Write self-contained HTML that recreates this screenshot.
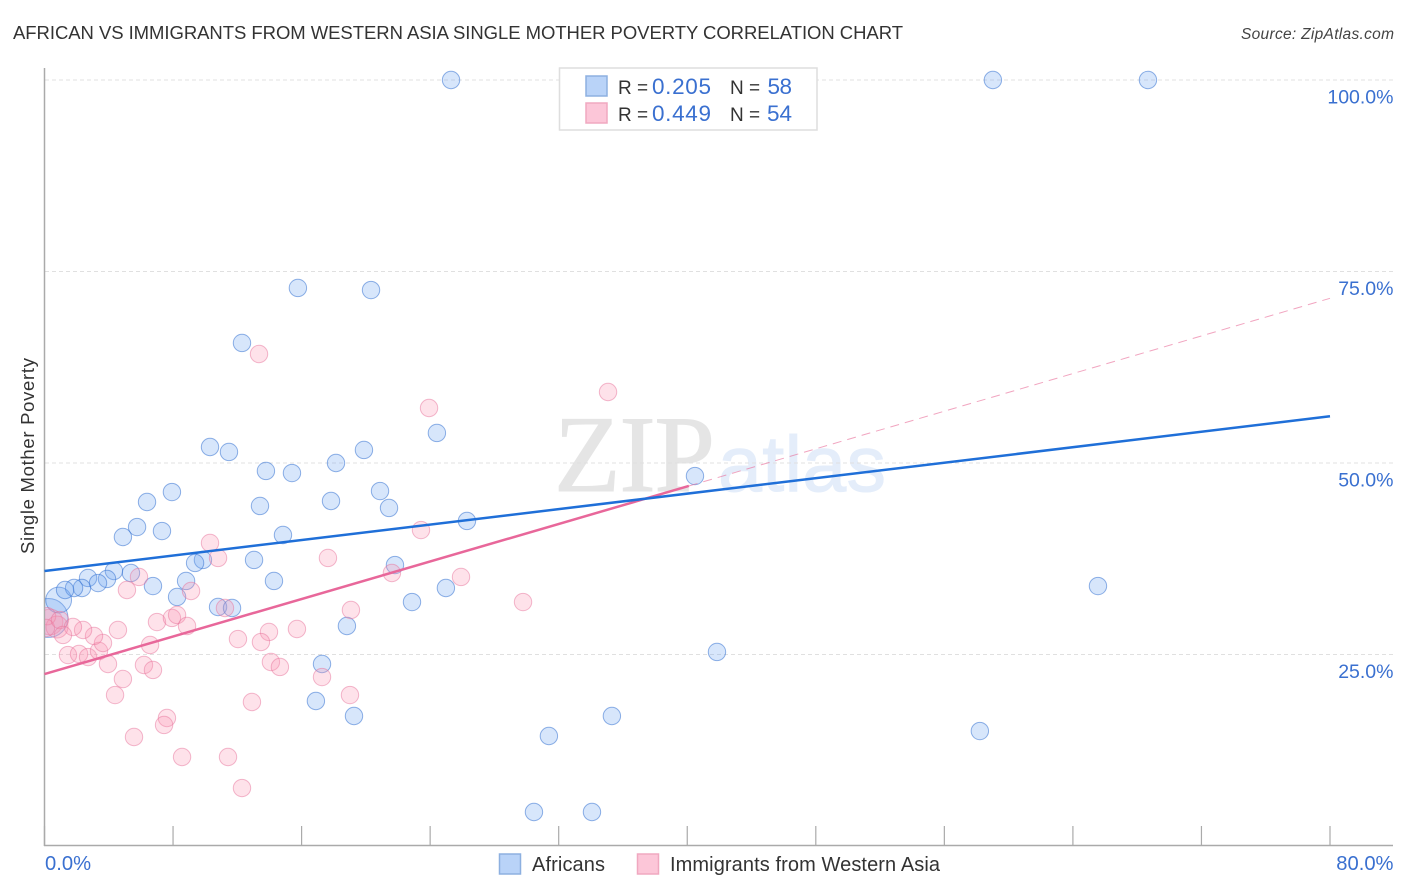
<!DOCTYPE html>
<html lang="en">
<head>
<meta charset="utf-8">
<title>African vs Immigrants from Western Asia Single Mother Poverty Correlation Chart</title>
<style>
html,body{margin:0;padding:0;background:#fff;width:1406px;height:892px;overflow:hidden}
svg{display:block;font-family:"Liberation Sans",sans-serif}
</style>
</head>
<body>
<svg id="chart" width="1406" height="892" viewBox="0 0 1406 892" xmlns="http://www.w3.org/2000/svg">
  <defs><clipPath id="plot-clip"><rect x="45" y="60" width="1350" height="786"/></clipPath></defs>
  <rect x="0" y="0" width="1406" height="892" fill="#fff"/>
  <text x="13" y="39" font-size="18.5" fill="#333" textLength="890" lengthAdjust="spacing">AFRICAN VS IMMIGRANTS FROM WESTERN ASIA SINGLE MOTHER POVERTY CORRELATION CHART</text>
  <text x="1241" y="39" font-size="15.5" font-style="italic" fill="#444" textLength="153" lengthAdjust="spacing">Source: ZipAtlas.com</text>

  <g>
    <text x="554" y="491" font-family="'Liberation Serif',serif" font-size="109" fill="#e5e5e5" stroke="#e5e5e5" stroke-width="1" textLength="161" lengthAdjust="spacing">ZIP</text>
    <text x="718" y="491" font-size="79" fill="#e4edfa" stroke="#e4edfa" stroke-width="1" textLength="168" lengthAdjust="spacing">atlas</text>
  </g>

  <g id="grid"></g>
  <g id="axes"></g>
  <g id="points" clip-path="url(#plot-clip)"></g>
  <g id="trends"></g>
  <g id="labels"></g>

  <text transform="translate(34,554) rotate(-90)" font-size="18.5" fill="#333" textLength="196" lengthAdjust="spacing">Single Mother Poverty</text>

  <g>
    <rect x="559.5" y="68" width="257.5" height="62" fill="#fff" stroke="#dedede" stroke-width="1.5"/>
    <rect x="586" y="76" width="21" height="20" fill="#b9d3f8" stroke="#8db0e0" stroke-width="1.5"/>
    <rect x="586" y="103" width="21" height="20" fill="#fcc6d8" stroke="#f0a8c0" stroke-width="1.5"/>
    <text x="618" y="94" font-size="19" fill="#333" xml:space="preserve">R =</text>
    <text x="652" y="94" font-size="22.5" fill="#3a70d0" textLength="59" lengthAdjust="spacing">0.205</text>
    <text x="730" y="94" font-size="19" fill="#333" xml:space="preserve">N =</text>
    <text x="767.5" y="94" font-size="22.5" fill="#3a70d0" textLength="24.5" lengthAdjust="spacing">58</text>
    <text x="618" y="121" font-size="19" fill="#333" xml:space="preserve">R =</text>
    <text x="652" y="121" font-size="22.5" fill="#3a70d0" textLength="59" lengthAdjust="spacing">0.449</text>
    <text x="730" y="121" font-size="19" fill="#333" xml:space="preserve">N =</text>
    <text x="767" y="121" font-size="22.5" fill="#3a70d0" textLength="25" lengthAdjust="spacing">54</text>
  </g>

  <g>
    <rect x="499.5" y="854" width="21" height="20" fill="#b9d3f8" stroke="#8db0e0" stroke-width="1.5"/>
    <text x="532" y="871" font-size="20" fill="#333" textLength="73" lengthAdjust="spacing">Africans</text>
    <rect x="637.5" y="854" width="21" height="20" fill="#fcc6d8" stroke="#f0a8c0" stroke-width="1.5"/>
    <text x="670" y="871" font-size="20" fill="#333" textLength="270" lengthAdjust="spacing">Immigrants from Western Asia</text>
  </g>
</svg>

<script>
const africansX = [0.25,0.88,25.30,59.02,68.67,15.77,20.32,12.29,10.30,11.48,13.78,15.40,18.14,19.88,24.42,7.93,6.38,13.41,17.83,20.88,21.44,26.29,40.48,5.76,4.88,7.31,14.84,9.86,9.37,13.04,21.81,14.28,8.81,5.38,4.32,3.89,2.71,3.33,2.33,1.84,1.28,6.75,8.25,10.80,11.67,22.87,24.98,65.56,18.82,17.27,41.85,16.89,19.26,31.39,35.31,58.21,30.46,34.07];
const africansY = [29.77,32.11,100,100,100,72.85,72.58,65.67,52.09,51.44,48.96,48.69,50.00,51.70,53.92,46.21,44.91,44.39,45.04,46.34,44.13,42.43,48.30,41.64,40.34,41.12,40.60,37.34,36.95,37.34,36.68,34.60,34.60,35.64,35.90,34.86,34.99,34.33,33.68,33.68,33.42,33.94,32.51,31.20,31.07,31.85,33.68,33.94,28.72,23.76,25.33,18.93,16.97,14.36,16.97,15.01,4.44,4.44];
const africansWeight = [5,2.2];

const immigrantsX = [0.34,0.78,0.16,0.09,0.96,10.30,10.80,17.64,5.88,5.13,9.12,19.07,7.00,7.93,8.25,8.87,4.57,12.04,13.97,13.47,15.71,6.57,6.19,6.75,14.09,14.65,17.27,19.01,3.95,4.88,4.39,12.91,7.62,7.44,5.57,8.56,11.42,12.29,1.46,2.15,2.71,3.39,3.64,3.08,2.40,1.77,1.15,13.35,23.93,35.07,23.43,21.62,25.92,29.78,11.23];
const immigrantsY = [29.24,28.59,30.00,28.46,29.50,39.56,37.60,37.60,35.12,33.42,33.29,30.81,29.24,29.77,30.16,28.72,28.20,27.02,27.94,26.63,28.33,26.24,23.63,22.98,24.02,23.37,22.06,19.71,23.76,21.80,19.71,18.80,16.71,15.80,14.23,11.62,11.62,7.57,24.93,25.07,24.67,25.46,26.50,27.42,28.20,28.59,27.55,64.23,57.18,59.27,41.25,35.64,35.12,31.85,31.07];
const immigrantsWeight = [2.2,1.6];

const africansTrendX = [0,80];
const africansTrendY = [35.9,56.1];
const immigrantsTrendX = [0,40.1];
const immigrantsTrendY = [22.45,47.0];
const immigrantsExtensionX = [40.1,80];
const immigrantsExtensionY = [47.0,71.5];

const xTickValues = [0,8,16,24,32,40,48,56,64,72,80];
const yTickValues = [25,50,75,100];
const yTickLabels = ['25.0%','50.0%','75.0%','100.0%'];
const xEndValues = [0,80];
const xEndLabels = ['0.0%','80.0%'];

const NS = 'http://www.w3.org/2000/svg';
const sx = v => 44.5 + v * (1330 - 44.5) / 80;
const sy = v => 846 - v * (846 - 80) / 100;
const baseRadius = 8.7;

function make(tag, attrs, parent) {
  const el = document.createElementNS(NS, tag);
  for (const k in attrs) el.setAttribute(k, attrs[k]);
  parent.appendChild(el);
  return el;
}

const grid = document.getElementById('grid');
const axes = document.getElementById('axes');
const points = document.getElementById('points');
const trends = document.getElementById('trends');
const labels = document.getElementById('labels');

yTickValues.forEach(function (v) {
  const line = make('line', {x1: 45, x2: 1393, y1: sy(v), y2: sy(v), stroke: '#e0e0e0', 'stroke-width': 1, 'stroke-dasharray': '4 3'}, grid);
  
  
});

const yAxis = make('line', {x1: 44.5, x2: 44.5, y1: 68, y2: 846, stroke: '#aaa', 'stroke-width': 1.5}, axes);


const xAxis = make('line', {x1: 44, x2: 1393, y1: 845.5, y2: 845.5, stroke: '#aaa', 'stroke-width': 1.5}, axes);



xTickValues.forEach(function (v) {
  const tick = make('line', {x1: sx(v), x2: sx(v), y1: 826, y2: 846, stroke: '#aaa', 'stroke-width': 1.2}, axes);
  
  
});

function drawSeries(xs, ys, weights, fill, stroke, name) {
  xs.forEach(function (x, i) {
    const w = weights[i] || 1;
    const c = make('circle', {cx: sx(x), cy: sy(ys[i]), r: baseRadius * Math.sqrt(w), fill: fill, stroke: stroke, 'stroke-width': 1}, points);
    
    
  });
}
drawSeries(africansX, africansY, africansWeight, 'rgba(110,165,240,0.28)', 'rgba(55,115,210,0.55)', 'african-point');
drawSeries(immigrantsX, immigrantsY, immigrantsWeight, 'rgba(250,150,180,0.28)', 'rgba(232,115,155,0.50)', 'immigrant-point');

const extension = make('line', {x1: sx(immigrantsExtensionX[0]), y1: sy(immigrantsExtensionY[0]), x2: sx(immigrantsExtensionX[1]), y2: sy(immigrantsExtensionY[1]), stroke: 'rgba(232,105,150,0.6)', 'stroke-width': 1, 'stroke-dasharray': '9 6'}, trends);


const immigrantsLine = make('line', {x1: sx(immigrantsTrendX[0]), y1: sy(immigrantsTrendY[0]), x2: sx(immigrantsTrendX[1]), y2: sy(immigrantsTrendY[1]), stroke: '#e8679a', 'stroke-width': 2.5}, trends);


const africansLine = make('line', {x1: sx(africansTrendX[0]), y1: sy(africansTrendY[0]), x2: sx(africansTrendX[1]), y2: sy(africansTrendY[1]), stroke: '#1f6fd8', 'stroke-width': 2.5}, trends);



yTickValues.forEach(function (v, i) {
  const t = make('text', {x: 1393.5, y: sy(v) + 23.5, 'text-anchor': 'end', 'font-size': 19.5, fill: '#3a70d0'}, labels);
  t.textContent = yTickLabels[i];
  
  
});
xEndValues.forEach(function (v, i) {
  const t = make('text', {x: i === 0 ? sx(v) + 0.5 : 1393.5, y: 870, 'text-anchor': i === 0 ? 'start' : 'end', 'font-size': 20.2, fill: '#3a70d0'}, labels);
  t.textContent = xEndLabels[i];
  
  
});
</script>
</body>
</html>
